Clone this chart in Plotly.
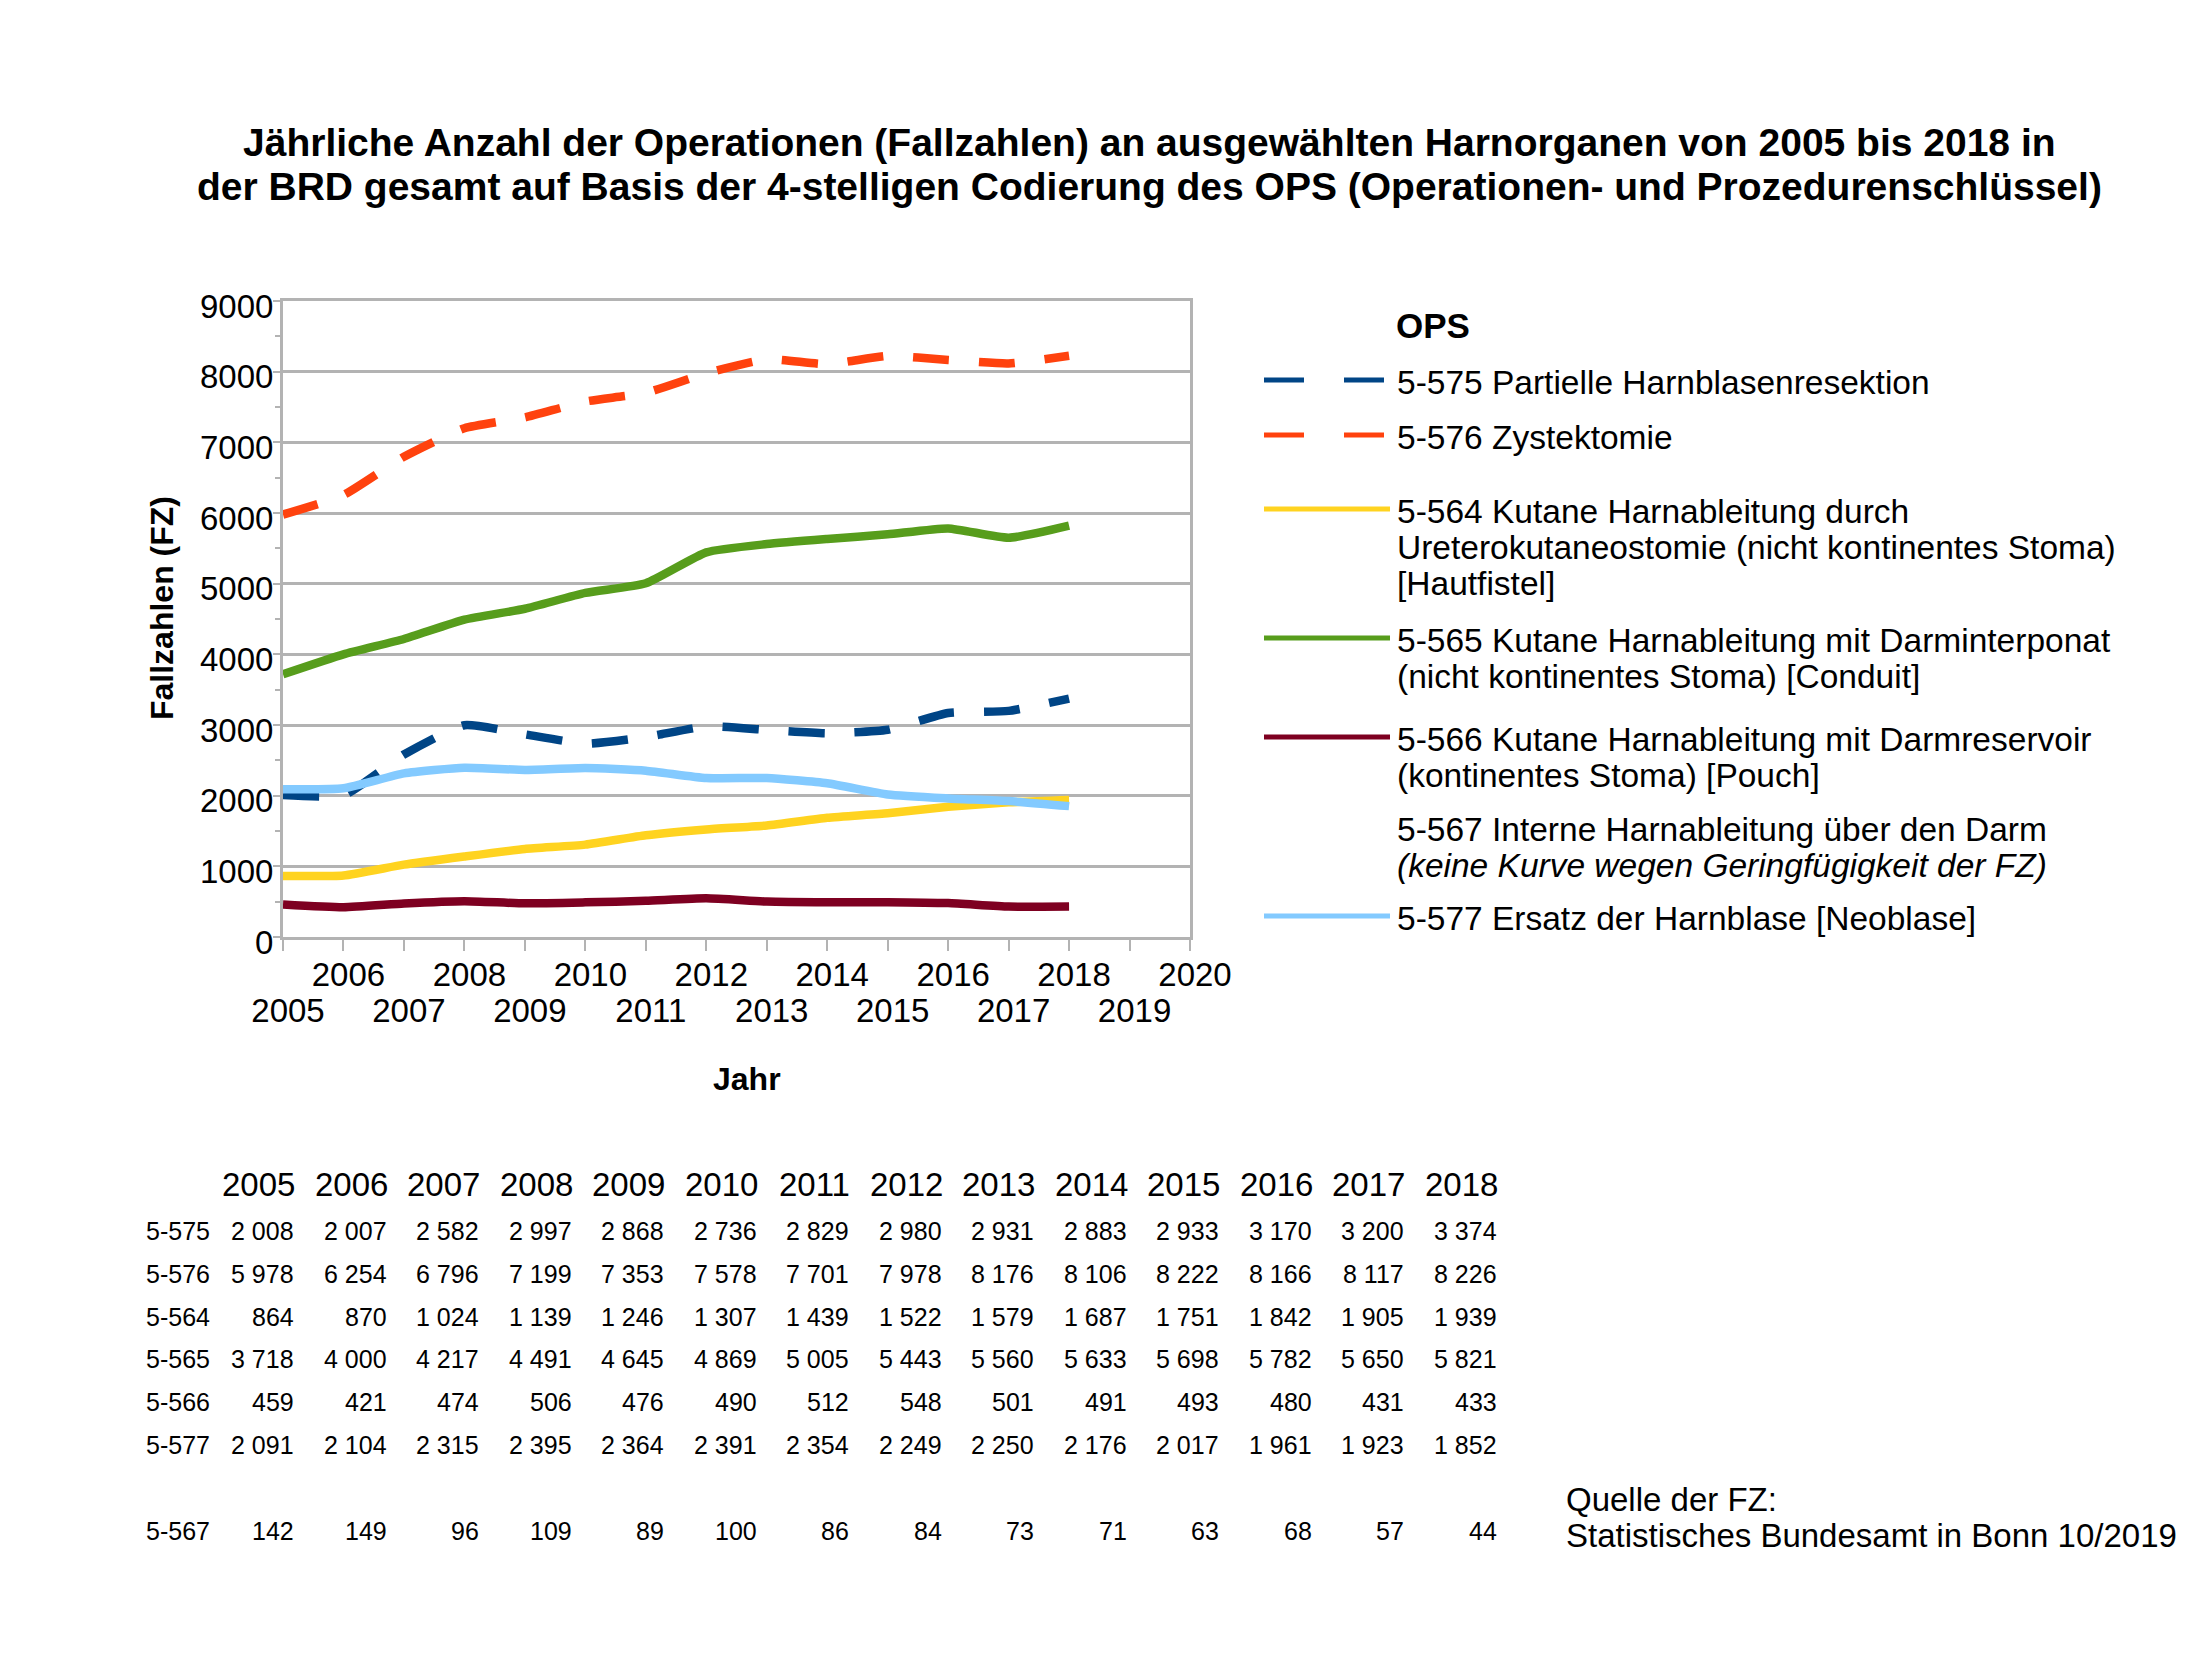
import plotly.graph_objects as go

# ---------------- data ----------------
years = [2005, 2006, 2007, 2008, 2009, 2010, 2011, 2012, 2013, 2014, 2015, 2016, 2017, 2018]
axis_years = list(range(2005, 2021))

v575 = [2008, 2007, 2582, 2997, 2868, 2736, 2829, 2980, 2931, 2883, 2933, 3170, 3200, 3374]
v576 = [5978, 6254, 6796, 7199, 7353, 7578, 7701, 7978, 8176, 8106, 8222, 8166, 8117, 8226]
v564 = [864, 870, 1024, 1139, 1246, 1307, 1439, 1522, 1579, 1687, 1751, 1842, 1905, 1939]
v565 = [3718, 4000, 4217, 4491, 4645, 4869, 5005, 5443, 5560, 5633, 5698, 5782, 5650, 5821]
v566 = [459, 421, 474, 506, 476, 490, 512, 548, 501, 491, 493, 480, 431, 433]
v577 = [2091, 2104, 2315, 2395, 2364, 2391, 2354, 2249, 2250, 2176, 2017, 1961, 1923, 1852]
v567 = [142, 149, 96, 109, 89, 100, 86, 84, 73, 71, 63, 68, 57, 44]

codes = ["5-575", "5-576", "5-564", "5-565", "5-566", "5-577"]
series = [v575, v576, v564, v565, v566, v577]
colors = ["#004586", "#ff420e", "#ffd320", "#579d1c", "#7e0021", "#83caff"]
dashes = ["36px,30px", "36px,30px", "solid", "solid", "solid", "solid"]

legend_lines = [
    ["5-575 Partielle Harnblasenresektion"],
    ["5-576 Zystektomie"],
    ["5-564 Kutane Harnableitung durch",
     "Ureterokutaneostomie (nicht kontinentes Stoma)",
     "[Hautfistel]"],
    ["5-565 Kutane Harnableitung mit Darminterponat",
     "(nicht kontinentes Stoma) [Conduit]"],
    ["5-566 Kutane Harnableitung mit Darmreservoir",
     "(kontinentes Stoma) [Pouch]"],
    ["5-567 Interne Harnableitung über den Darm",
     "<i>(keine Kurve wegen Geringfügigkeit der FZ)</i>"],
    ["5-577 Ersatz der Harnblase [Neoblase]"],
]
legend_colors = ["#004586", "#ff420e", "#ffd320", "#579d1c", "#7e0021", None, "#83caff"]
legend_dash = ["40px,40px", "40px,40px", "solid", "solid", "solid", None, "solid"]

table_codes = ["5-575", "5-576", "5-564", "5-565", "5-566", "5-577", None, "5-567"]
table_values = [v575, v576, v564, v565, v566, v577, None, v567]

title_lines = [
    "Jährliche Anzahl der Operationen (Fallzahlen) an ausgewählten Harnorganen von 2005 bis 2018 in",
    "der BRD gesamt auf Basis der 4-stelligen Codierung des OPS (Operationen- und Prozedurenschlüssel)",
]
source_lines = ["Quelle der FZ:", "Statistisches Bundesamt in Bonn 10/2019"]

# ---------------- layout geometry (page pixels) ----------------
W, H = 2206, 1653
OFF = 8                      # default body margin of the html page
FW, FH = W - 2 * OFF, H - 2 * OFF
PL, PR, PT, PB = 283, 1190, 301, 937
FONT = "Liberation Sans, Arial, sans-serif"
GRID = "#b3b3b3"


def px(x):
    return (x - PL) / (PR - PL)


def py(y):
    return (PB - y) / (PB - PT)


fig = go.Figure()

for code, vals, col, dash in zip(codes, series, colors, dashes):
    fig.add_trace(go.Scatter(
        x=years, y=vals, name=code, mode="lines",
        line=dict(color=col, width=8.5, dash=dash, shape="spline", smoothing=0.5),
        showlegend=False, hoverinfo="x+y+name"))

# empty trace for the second (staggered) tick label row
fig.add_trace(go.Scatter(x=[], y=[], xaxis="x2", showlegend=False, hoverinfo="skip"))

annotations = []
shapes = []

# title
for i, t in enumerate(title_lines):
    annotations.append(dict(text="<b>" + t + "</b>", x=px(1149), y=py(142 + 44 * i),
                            xanchor="center", yanchor="middle",
                            font=dict(size=39, color="black", family=FONT)))

# axis titles
annotations.append(dict(text="<b>Fallzahlen (FZ)</b>", x=px(162), y=py(608), textangle=-90,
                        xanchor="center", yanchor="middle",
                        font=dict(size=32, color="black", family=FONT)))
annotations.append(dict(text="<b>Jahr</b>", x=px(747), y=py(1079),
                        xanchor="center", yanchor="middle",
                        font=dict(size=32, color="black", family=FONT)))

# legend
annotations.append(dict(text="<b>OPS</b>", x=px(1394), y=py(325), xanchor="left", yanchor="middle",
                        font=dict(size=35, color="black", family=FONT)))
entry_y = [382, 437, 511, 640, 739, 829, 918]
for lines, col, dsh, y0 in zip(legend_lines, legend_colors, legend_dash, entry_y):
    for k, ln in enumerate(lines):
        annotations.append(dict(text=ln, x=px(1395), y=py(y0 + 36 * k), xanchor="left",
                                yanchor="middle", font=dict(size=33.5, color="black", family=FONT)))
    if col is not None:
        shapes.append(dict(type="line", xref="paper", yref="paper",
                           x0=px(1264), x1=px(1390 if dsh == "solid" else 1385),
                           y0=py(y0 - 2), y1=py(y0 - 2),
                           line=dict(color=col, width=5, dash=dsh)))

# table
col_right = [295 + 92.5 * i for i in range(len(years))]
for i, yr in enumerate(years):
    annotations.append(dict(text=str(yr), x=px(col_right[i] + 2), y=py(1184), xanchor="right",
                            yanchor="middle", font=dict(size=33, color="black", family=FONT)))
for r, (code, vals) in enumerate(zip(table_codes, table_values)):
    if code is None:
        continue
    yy = 1231 + 42.8 * r
    annotations.append(dict(text=code, x=px(144), y=py(yy), xanchor="left", yanchor="middle",
                            font=dict(size=25, color="black", family=FONT)))
    for i, v in enumerate(vals):
        annotations.append(dict(text=f"{v:,}".replace(",", " "), x=px(col_right[i] + 1), y=py(yy),
                                xanchor="right", yanchor="middle",
                                font=dict(size=25, color="black", family=FONT)))

# source
for k, t in enumerate(source_lines):
    annotations.append(dict(text=t, x=px(1564), y=py(1499 + 36 * k), xanchor="left", yanchor="middle",
                            font=dict(size=33, color="black", family=FONT)))

for a in annotations:
    a.setdefault("xref", "paper")
    a.setdefault("yref", "paper")
    a.setdefault("showarrow", False)

fig.update_layout(
    width=FW, height=FH, autosize=False,
    margin=dict(l=PL - OFF, r=OFF + FW - PR, t=PT - OFF, b=OFF + FH - PB, pad=0),
    paper_bgcolor="white", plot_bgcolor="white",
    font=dict(family=FONT, color="black"),
    xaxis=dict(range=[2005, 2020], tickvals=axis_years,
               ticktext=[str(y) if y % 2 == 0 else "" for y in axis_years],
               ticks="outside", ticklen=11, tickwidth=2, tickcolor=GRID,
               showgrid=False, zeroline=False, showline=True, linecolor=GRID, linewidth=3,
               mirror=True, tickfont=dict(size=33, color="black"), ticklabelshift=5,
               ticklabelstandoff=-5),
    xaxis2=dict(range=[2005, 2020], overlaying="x", anchor="y", side="bottom",
                tickvals=[y for y in axis_years if y % 2 == 1],
                ticktext=[str(y) for y in axis_years if y % 2 == 1],
                ticks="", showgrid=False, zeroline=False, showline=False,
                tickfont=dict(size=33, color="black"), ticklabelstandoff=51, ticklabelshift=5),
    yaxis=dict(range=[0, 9000], tickvals=list(range(0, 9001, 1000)),
               ticks="outside", ticklen=7, tickwidth=2, tickcolor=GRID,
               showgrid=True, gridcolor=GRID, gridwidth=2.5, zeroline=False,
               showline=True, linecolor=GRID, linewidth=3, mirror=True,
               tickfont=dict(size=33, color="black"), ticklabelshift=5, ticklabelstandoff=-7,
               minor=dict(tickvals=list(range(500, 9000, 1000)), ticks="outside", ticklen=5,
                          tickcolor=GRID, tickwidth=2, showgrid=False)),
    annotations=annotations,
    shapes=shapes,
)

fig.write_html("out.html")
